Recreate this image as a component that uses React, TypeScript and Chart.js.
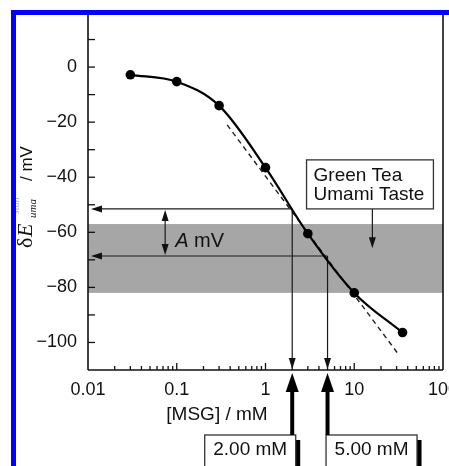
import React, { useEffect, useRef } from "react";
import { Chart, registerables } from "chart.js";

Chart.register(...registerables);

// ---- data ----
const concentrations = [0.03, 0.1, 0.3, 1, 3, 10, 35];
const potentials = [-2.8, -5.3, -14, -36.5, -60.5, -82, -96.4];
const nernstConc = [0.37, 32];
const nernstMV = [-21, -104.6];
const xDecades = [0.01, 0.1, 1, 10, 100];
const xTickLabels = ["0.01", "0.1", "1", "10", "100"];
const yLabelValues = [0, -20, -40, -60, -80, -100];
const yTickLabels = ["0", "\u221220", "\u221240", "\u221260", "\u221280", "\u2212100"];
const bandMV = [-57, -82];
const markerConc = [2, 5];
const markerMV = [-51.5, -68.6];
const markerLabels = ["2.00 mM", "5.00 mM"];
const legendLines = ["Green Tea", "Umami Taste"];
const legendBoxX = [2.9, 78];
const legendBoxY = [-33.7, -51.5];
const legendArrowX = 16;
const legendArrowTipY = -65.8;
const spanArrowX = 0.074;
const spanLabelX = 0.096;
const spanLabelY = -65.2;

const SANS = "'Liberation Sans', Arial, Helvetica, sans-serif";
const SERIF = "'Liberation Serif', 'Times New Roman', serif";

function line(ctx: CanvasRenderingContext2D, x1: number, y1: number, x2: number, y2: number) {
  ctx.beginPath();
  ctx.moveTo(x1, y1);
  ctx.lineTo(x2, y2);
  ctx.stroke();
}

function arrowHead(ctx: CanvasRenderingContext2D, tx: number, ty: number, dx: number, dy: number, len: number, hw: number) {
  const bx = tx - dx * len;
  const by = ty - dy * len;
  ctx.beginPath();
  ctx.moveTo(tx, ty);
  ctx.lineTo(bx - dy * hw, by + dx * hw);
  ctx.lineTo(bx + dy * hw, by - dx * hw);
  ctx.closePath();
  ctx.fill();
}

const annotationPlugin = {
  id: "annotations",
  beforeDatasetsDraw(chart: any) {
    const { ctx, chartArea: a, scales } = chart;
    const x = scales.x;
    const y = scales.y;
    ctx.save();
    // gray band
    const yb1 = y.getPixelForValue(bandMV[0]);
    const yb2 = y.getPixelForValue(bandMV[1]);
    ctx.fillStyle = "#a6a6a6";
    ctx.fillRect(a.left, yb1, a.right - a.left, yb2 - yb1);

    // marker lines with arrows
    ctx.strokeStyle = "#1a1a1a";
    ctx.fillStyle = "#111";
    ctx.lineWidth = 1.2;
    markerConc.forEach((c, i) => {
      const px = x.getPixelForValue(c);
      const py = y.getPixelForValue(markerMV[i]);
      line(ctx, a.left + 10, py, px, py);
      arrowHead(ctx, a.left + 3, py, -1, 0, 11, 3.5);
      line(ctx, px, py, px, a.bottom - 8);
      arrowHead(ctx, px, a.bottom - 1, 0, 1, 11, 3.5);
    });

    // double arrow "A mV"
    const ax = x.getPixelForValue(spanArrowX);
    const ay1 = y.getPixelForValue(markerMV[0]);
    const ay2 = y.getPixelForValue(markerMV[1]);
    line(ctx, ax, ay1 + 8, ax, ay2 - 8);
    arrowHead(ctx, ax, ay1 + 1, 0, -1, 11, 3.5);
    arrowHead(ctx, ax, ay2 - 1, 0, 1, 11, 3.5);
    const lx = x.getPixelForValue(spanLabelX);
    const ly = y.getPixelForValue(spanLabelY);
    ctx.fillStyle = "#111";
    ctx.textBaseline = "alphabetic";
    ctx.textAlign = "left";
    ctx.font = `italic 20px ${SANS}`;
    ctx.fillText("A", lx, ly);
    const aw = ctx.measureText("A").width;
    ctx.font = `20px ${SANS}`;
    ctx.fillText(" mV", lx + aw, ly);

    // legend box
    const bx1 = x.getPixelForValue(legendBoxX[0]);
    const bx2 = x.getPixelForValue(legendBoxX[1]);
    const by1 = y.getPixelForValue(legendBoxY[0]);
    const by2 = y.getPixelForValue(legendBoxY[1]);
    ctx.fillStyle = "#fff";
    ctx.fillRect(bx1, by1, bx2 - bx1, by2 - by1);
    ctx.strokeStyle = "#333";
    ctx.lineWidth = 1.3;
    ctx.strokeRect(bx1, by1, bx2 - bx1, by2 - by1);
    ctx.fillStyle = "#111";
    ctx.font = `19px ${SANS}`;
    ctx.fillText(legendLines[0], bx1 + 7, by1 + 21.5);
    ctx.fillText(legendLines[1], bx1 + 7, by1 + 40);
    const lax = x.getPixelForValue(legendArrowX);
    const lay = y.getPixelForValue(legendArrowTipY);
    ctx.strokeStyle = "#1a1a1a";
    ctx.lineWidth = 1.2;
    line(ctx, lax, by2, lax, lay - 8);
    arrowHead(ctx, lax, lay, 0, 1, 11, 3.5);
    ctx.restore();
  },
  afterDatasetsDraw(chart: any) {
    const { ctx, chartArea: a, scales } = chart;
    const x = scales.x;
    const y = scales.y;
    ctx.save();
    // axes frame
    ctx.strokeStyle = "#111";
    ctx.lineWidth = 1.6;
    line(ctx, a.left, a.top, a.left, a.bottom);
    line(ctx, a.left, a.bottom, a.right, a.bottom);
    line(ctx, a.right, a.top, a.right, a.bottom);
    // y ticks every 10
    ctx.lineWidth = 1.3;
    for (let v = -100; v <= 10; v += 10) {
      const py = y.getPixelForValue(v);
      line(ctx, a.left, py, a.left + 7, py);
    }
    // x ticks
    for (let d = 0; d < xDecades.length; d++) {
      const base = xDecades[d];
      const px = x.getPixelForValue(base);
      if (d > 0 && d < xDecades.length - 1) line(ctx, px, a.bottom, px, a.bottom - 7);
      if (d < xDecades.length - 1) {
        for (let m = 2; m <= 9; m++) {
          const mx = x.getPixelForValue(base * m);
          line(ctx, mx, a.bottom, mx, a.bottom - 4);
        }
      }
    }

    // x title
    ctx.fillStyle = "#111";
    ctx.textAlign = "center";
    ctx.textBaseline = "alphabetic";
    ctx.font = `19px ${SANS}`;
    ctx.fillText("[MSG] / mM", a.left + 129, a.bottom + 50);

    // bottom boxes with thick arrows
    markerConc.forEach((c, i) => {
      const px = x.getPixelForValue(c);
      const top = a.bottom + 65;
      const w = 91;
      const left = i === 0 ? px - w + 3.5 : px - 1.5;
      // shadow
      ctx.fillStyle = "#000";
      ctx.fillRect(left + w, top + 5, 4.5, 40);
      ctx.fillStyle = "#fff";
      ctx.fillRect(left, top, w, 40);
      ctx.strokeStyle = "#333";
      ctx.lineWidth = 1.3;
      ctx.strokeRect(left, top, w, 40);
      ctx.fillStyle = "#111";
      ctx.font = `19px ${SANS}`;
      ctx.textAlign = "center";
      ctx.fillText(markerLabels[i], left + w / 2, a.bottom + 85);
      // thick arrow
      ctx.strokeStyle = "#000";
      ctx.fillStyle = "#000";
      ctx.lineWidth = 4;
      line(ctx, px, top, px, a.bottom + 20);
      arrowHead(ctx, px, a.bottom + 3, 0, -1, 19, 6.5);
    });

    // y title (rotated)
    ctx.save();
    ctx.translate(32, 248);
    ctx.rotate(-Math.PI / 2);
    ctx.textAlign = "left";
    ctx.textBaseline = "alphabetic";
    ctx.fillStyle = "#111";
    ctx.font = `22px ${SERIF}`;
    ctx.fillText("\u03b4", 0, 0);
    ctx.font = `italic 22px ${SERIF}`;
    ctx.fillText("E", 11, 0);
    ctx.font = `italic 11px ${SERIF}`;
    ctx.fillText("uma", 30, 4);
    ctx.fillStyle = "#aaa";
    ctx.font = `italic 10px ${SERIF}`;
    ctx.fillText("stan", 34, -13);
    ctx.fillStyle = "#111";
    ctx.font = `17px ${SANS}`;
    ctx.fillText("/ mV", 67, 0);
    ctx.restore();

    // blue frame
    ctx.fillStyle = "#0000ff";
    ctx.fillRect(11, 10, 449 - 11, 5);
    ctx.fillRect(11, 10, 5, 466 - 10);
    ctx.restore();
  },
};

export default function App() {
  const canvasRef = useRef<HTMLCanvasElement | null>(null);

  useEffect(() => {
    const canvas = canvasRef.current;
    if (!canvas) return;
    const chart = new Chart(canvas, {
      type: "line",
      data: {
        datasets: [
          {
            label: "MSG",
            data: concentrations.map((c, i) => ({ x: c, y: potentials[i] })),
            borderColor: "#000",
            backgroundColor: "#000",
            borderWidth: 2.2,
            pointRadius: 4.8,
            pointBackgroundColor: "#000",
            pointBorderWidth: 0,
            cubicInterpolationMode: "monotone",
            order: 1,
          },
          {
            label: "Nernst",
            data: nernstConc.map((c, i) => ({ x: c, y: nernstMV[i] })),
            borderColor: "#222",
            borderWidth: 1.4,
            borderDash: [5, 4],
            pointRadius: 0,
            order: 2,
          },
        ],
      },
      options: {
        animation: false,
        responsive: false,
        devicePixelRatio: 1,
        layout: { padding: { top: 12, right: 6, bottom: 0, left: 0 } },
        plugins: { legend: { display: false }, tooltip: { enabled: false } },
        scales: {
          x: {
            type: "logarithmic",
            min: 0.01,
            max: 100,
            grid: { display: false, drawTicks: false },
            border: { display: false },
            ticks: {
              font: { family: SANS, size: 18 },
              color: "#111",
              padding: 9,
              maxRotation: 0,
              autoSkip: false,
              callback: (_v: any, i: number) => xTickLabels[i],
            },
            afterBuildTicks: (s: any) => {
              s.ticks = xDecades.map((v) => ({ value: v }));
            },
            afterFit: (s: any) => {
              s.height = 96;
              s.paddingLeft = 0;
              s.paddingRight = 0;
            },
          },
          y: {
            type: "linear",
            min: -110,
            max: 20,
            grid: { display: false, drawTicks: false },
            border: { display: false },
            ticks: {
              font: { family: SANS, size: 18 },
              color: "#111",
              padding: 11,
              autoSkip: false,
              callback: (_v: any, i: number) => yTickLabels[i],
            },
            afterBuildTicks: (s: any) => {
              s.ticks = yLabelValues.map((v) => ({ value: v }));
            },
            afterFit: (s: any) => {
              s.width = 88;
              s.paddingTop = 0;
              s.paddingBottom = 0;
            },
          },
        },
      },
      plugins: [annotationPlugin],
    } as any);
    return () => chart.destroy();
  }, []);

  return (
    <div style={{ position: "absolute", left: 0, top: 0, width: 449, height: 466, background: "#fff", overflow: "hidden" }}>
      <canvas ref={canvasRef} width={449} height={466} style={{ display: "block" }} />
    </div>
  );
}
